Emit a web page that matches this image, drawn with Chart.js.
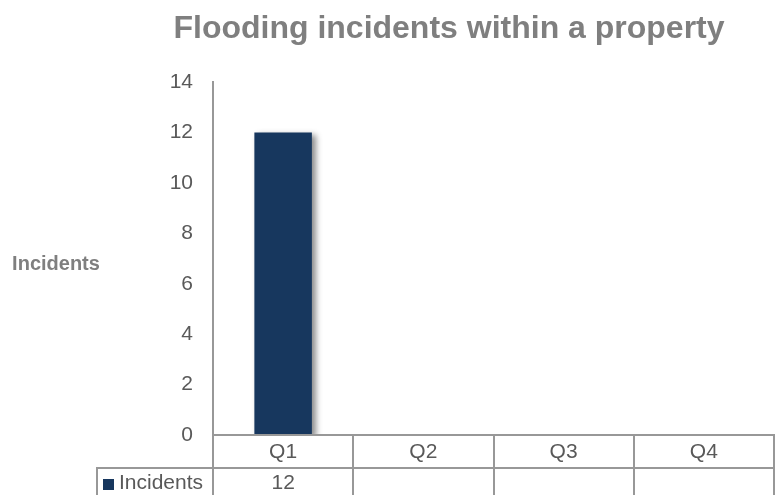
<!DOCTYPE html>
<html>
<head>
<meta charset="utf-8">
<script src="https://cdn.jsdelivr.net/npm/chart.js@4.4.1/dist/chart.umd.min.js"></script>
<style>
  body { margin: 0; background: #fff; }
  #wrap { width: 776px; height: 495px; }
</style>
</head>
<body>
<div id="wrap"><canvas id="floodChart"></canvas></div>
<script>
var quarters = ['Q1', 'Q2', 'Q3', 'Q4'];
var incidents = [12, null, null, null];
var yTicks = [0, 2, 4, 6, 8, 10, 12, 14];
var seriesName = 'Incidents';
var chartTitle = 'Flooding incidents within a property';

var navy = '#17375e';
var gridGrey = '#989898';
var textGrey = '#595959';
var titleGrey = '#7f7f7f';

// drop shadow behind the bars
var barShadow = {
	id: 'barShadow',
	beforeDatasetsDraw: function(chart) {
		var ctx = chart.ctx;
		ctx.save();
		ctx.shadowColor = 'rgba(0, 0, 0, 0.45)';
		ctx.shadowBlur = 6;
		ctx.shadowOffsetX = 4;
		ctx.shadowOffsetY = 3;
	},
	afterDatasetsDraw: function(chart) {
		chart.ctx.restore();
	}
};

// title, side label and the data table under the axis
var extras = {
	id: 'extras',
	afterDraw: function(chart) {
		var ctx = chart.ctx;
		var area = chart.chartArea;
		var x = chart.scales.x;
		var half = (x.getPixelForValue(1) - x.getPixelForValue(0)) / 2;
		var row1 = area.bottom;
		var row2 = 468;
		var bottom = chart.height;
		var tableLeft = 97;

		ctx.save();
		ctx.fillStyle = titleGrey;
		ctx.textAlign = 'center';
		ctx.textBaseline = 'alphabetic';
		ctx.font = 'bold 32px "Liberation Sans", Arial, sans-serif';
		ctx.fillText(chartTitle, 449, 38);

		ctx.font = 'bold 20px "Liberation Sans", Arial, sans-serif';
		ctx.textBaseline = 'middle';
		ctx.fillText(seriesName, 56, 264);

		// grid lines of the table
		ctx.strokeStyle = gridGrey;
		ctx.lineWidth = 2;
		ctx.beginPath();
		ctx.moveTo(area.left - 1, row1);
		ctx.lineTo(area.right, row1);
		ctx.moveTo(tableLeft - 1, row2);
		ctx.lineTo(area.right, row2);
		ctx.moveTo(tableLeft, row2);
		ctx.lineTo(tableLeft, bottom);
		for (var i = 0; i < quarters.length; i++) {
			var edge = Math.round(x.getPixelForValue(i) - half);
			ctx.moveTo(edge, row1);
			ctx.lineTo(edge, bottom);
		}
		ctx.moveTo(area.right, row1 - 1);
		ctx.lineTo(area.right, bottom);
		ctx.stroke();

		// category row and value row
		ctx.fillStyle = textGrey;
		ctx.font = '21px "Liberation Sans", Arial, sans-serif';
		ctx.textAlign = 'center';
		for (var j = 0; j < quarters.length; j++) {
			var cx = x.getPixelForValue(j);
			ctx.fillText(quarters[j], cx, (row1 + row2) / 2 + 1);
			if (incidents[j] !== null) {
				ctx.fillText(String(incidents[j]), cx, 483);
			}
		}

		// legend key in the first column
		ctx.fillStyle = navy;
		ctx.fillRect(103, 479, 11, 11);
		ctx.fillStyle = textGrey;
		ctx.textAlign = 'left';
		ctx.fillText(seriesName, 119, 483);
		ctx.restore();
	}
};

var ctx = document.getElementById('floodChart');

var barChart = new Chart(ctx, {
	type: 'bar',
	data: {
		labels: quarters,
		datasets: [
			{
				label: seriesName,
				data: incidents,
				backgroundColor: navy,
				borderWidth: 0,
				barPercentage: 0.41,
				categoryPercentage: 1
			}
		]
	},
	options: {
		responsive: true,
		maintainAspectRatio: false,
		animation: false,
		layout: {
			padding: { top: 82, right: 2, bottom: 60, left: 0 }
		},
		plugins: {
			legend: { display: false },
			title: { display: false },
			tooltip: { enabled: false }
		},
		scales: {
			x: {
				display: false,
				offset: true
			},
			y: {
				min: 0,
				max: 14,
				afterFit: function(scale) { scale.width = 213; },
				afterBuildTicks: function(scale) {
					scale.ticks = yTicks.map(function(v) { return { value: v }; });
				},
				grid: { display: false, drawTicks: false },
				border: { display: true, color: gridGrey, width: 2 },
				ticks: {
					color: textGrey,
					padding: 20,
					font: { family: '"Liberation Sans", Arial, sans-serif', size: 21 }
				}
			}
		}
	},
	plugins: [barShadow, extras]
});
</script>
</body>
</html>
